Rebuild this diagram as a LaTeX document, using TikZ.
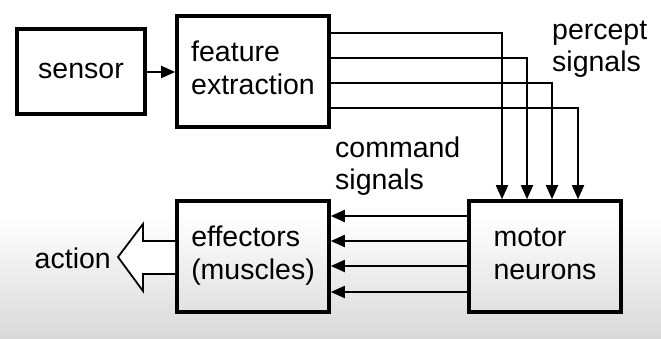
\documentclass[tikz,border=0pt]{standalone}
\usepackage{fontspec}
\setmainfont{Liberation Sans}
\usetikzlibrary{arrows.meta,calc}
\newcommand{\uptext}[1]{\raisebox{4.5pt}{\begin{tabular}{@{}l@{}}#1\end{tabular}}}
\begin{document}
\begin{tikzpicture}[x=1pt,y=-1pt,
  box/.style={draw,line width=3.6pt,minimum width=#1,align=left,inner sep=0pt,font=\fontsize{28.5}{33}\selectfont},
  sig/.style={line width=1.8pt,-{Triangle[length=14pt,width=12pt]}},
  lbl/.style={align=left,inner sep=0pt,font=\fontsize{28.5}{32}\selectfont}]
\fill[white] (0,0) rectangle (661,339);
\shade[top color=white,bottom color=black!15] (0,215) rectangle (661,339);
\useasboundingbox (0,0) rectangle (661,339);
\node[box=128pt,minimum height=85pt] (sen) at (81,71.5) {\uptext{sensor}};
\node[box=152pt,minimum height=111pt] (fe) at (253,71.5) {\uptext{feature\\extraction}};
\node[box=152pt,minimum height=111pt] (ef) at (253,256.5) {\uptext{effectors\\(muscles)}};
\node[box=152pt,minimum height=111pt] (mn) at (545,256.5) {\uptext{motor\\neurons}};
\draw[sig] (sen.east |- 0,72) -- (fe.west |- 0,72);
\foreach \y/\x in {33/502,58/527,83/552,108/578}{
  \draw[sig] (fe.east |- 0,\y) -| (mn.north -| \x,0);
}
\foreach \y in {216,241,266,292}{
  \draw[sig] (mn.west |- 0,\y) -- (ef.east |- 0,\y);
}
\coordinate (tip) at (118,257);
\draw[line width=1.8pt,line join=miter,fill=white] (ef.west |- 0,241) -- (143,241) -- (143,224) -- (tip) -- (143,291) -- (143,274) -- (ef.west |- 0,274);
\node[lbl,anchor=east] (act) at (111,258) {action};
\node[lbl,anchor=west] (ps) at (552,49) {percept\\signals};
\node[lbl,anchor=west] (cs) at (335,166) {command\\signals};
\end{tikzpicture}
\end{document}
